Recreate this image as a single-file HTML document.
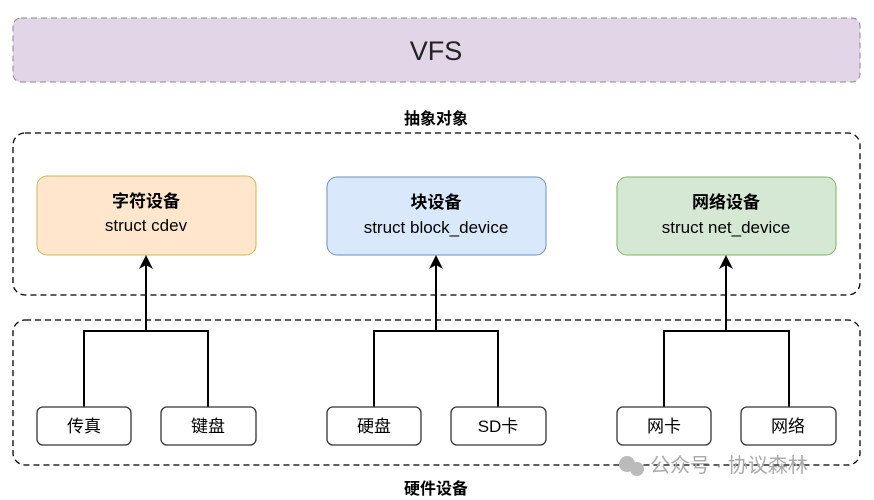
<!DOCTYPE html>
<html><head><meta charset="utf-8"><style>body{margin:0;background:#fff}svg{display:block}text{font-family:"Liberation Sans","Noto Sans CJK SC",sans-serif}</style></head><body>
<svg width="874" height="500" viewBox="0 0 874 500" xmlns="http://www.w3.org/2000/svg">
<defs><marker id="a" markerWidth="14" markerHeight="14" refX="7" refY="7" orient="auto" markerUnits="userSpaceOnUse"><path d="M0,0 L14,7 L0,14 L4,7 Z" fill="#000"/></marker></defs>
<rect x="13" y="18" width="847" height="64" rx="8" fill="#e1d5e7" stroke="#888" stroke-dasharray="6,4"/>
<text x="436" y="60" font-size="27" text-anchor="middle" fill="#222">VFS</text>
<text x="436" y="124" font-size="16" font-weight="bold" text-anchor="middle">抽象对象</text>
<rect x="13" y="133" width="847" height="162" rx="12" fill="none" stroke="#000" stroke-width="1.3" stroke-dasharray="6,4"/>
<rect x="13" y="320" width="847" height="145" rx="12" fill="none" stroke="#000" stroke-width="1.3" stroke-dasharray="6,4"/>
<g font-size="17" text-anchor="middle">
<rect x="37" y="176" width="219" height="79" rx="10" fill="#ffe6cc" stroke="#d6b656"/>
<text x="146" y="207" font-weight="bold">字符设备</text><text x="146" y="231">struct cdev</text>
<rect x="327" y="177" width="219" height="78" rx="10" fill="#dae8fc" stroke="#6c8ebf"/>
<text x="436" y="208" font-weight="bold">块设备</text><text x="436" y="233">struct block_device</text>
<rect x="617" y="177" width="219" height="78" rx="10" fill="#d5e8d4" stroke="#82b366"/>
<text x="726" y="208" font-weight="bold">网络设备</text><text x="726" y="233">struct net_device</text>
</g>
<g stroke="#000" stroke-width="2" fill="none">
<path d="M146,331 V262" marker-end="url(#a)"/><path d="M84,407 V331 H208 V407"/>
<path d="M436,331 V262" marker-end="url(#a)"/><path d="M374,407 V331 H498 V407"/>
<path d="M726,331 V262" marker-end="url(#a)"/><path d="M664,407 V331 H789 V407"/>
</g>
<g font-size="17" text-anchor="middle" stroke-width="1.3">
<rect x="37" y="407" width="94" height="38" rx="6" fill="#fff" stroke="#333"/><text x="84" y="432">传真</text>
<rect x="161" y="407" width="95" height="38" rx="6" fill="#fff" stroke="#333"/><text x="208" y="432">键盘</text>
<rect x="327" y="407" width="94" height="38" rx="6" fill="#fff" stroke="#333"/><text x="374" y="432">硬盘</text>
<rect x="451" y="407" width="95" height="38" rx="6" fill="#fff" stroke="#333"/><text x="498" y="432">SD卡</text>
<rect x="617" y="407" width="94" height="38" rx="6" fill="#fff" stroke="#333"/><text x="664" y="432">网卡</text>
<rect x="741" y="407" width="95" height="38" rx="6" fill="#fff" stroke="#333"/><text x="788" y="432">网络</text>
</g>
<text x="436" y="494" font-size="16" font-weight="bold" text-anchor="middle">硬件设备</text>
<circle cx="627" cy="464" r="8" fill="#bbb"/><circle cx="637" cy="469" r="7" fill="#bbb"/>
<text x="650" y="472" font-size="20" fill="#aaa">公众号 · 协议森林</text>
</svg>
</body></html>
